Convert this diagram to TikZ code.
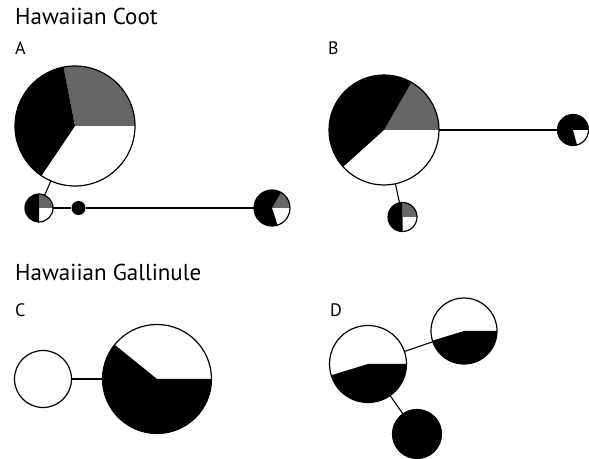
\documentclass[tikz,border=0pt]{standalone}
\usepackage{fontspec}
\setmainfont{PT Sans}
\usetikzlibrary{backgrounds}
\definecolor{gryfill}{RGB}{102,102,102}
\tikzset{
  pie/.style={circle, draw, line width=1.2pt, inner sep=0pt, outer sep=0pt, minimum size=#1},
  link/.style={line width=1.1pt},
  title/.style={anchor=base west, inner sep=0pt, font=\fontsize{23}{27}\selectfont},
  panel/.style={anchor=base west, inner sep=0pt, font=\fontsize{18}{22}\selectfont},
}
\newcommand\pieslice[5]{\fill[#5] (#1.center) -- ++(#3:#2) arc[start angle=#3,end angle=#4,radius=#2] -- cycle;}
\begin{document}
\begin{tikzpicture}[x=1pt,y=1pt]
\useasboundingbox (0,0) rectangle (589,458);
% titles
\node[title] (t1) at (15,433) {Hawaiian Coot};
\node[title] (t2) at (15,177) {Hawaiian Gallinule};
\node[panel] (la) at (15,403) {A};
\node[panel] (lb) at (328,403) {B};
\node[panel] (lc) at (15,141) {C};
\node[panel] (ld) at (330,141) {D};
% panel A
\node[pie=120pt] (A1) at (75,332) {};
\node[pie=28pt] (A2) at (39,250) {};
\node[circle, fill, inner sep=0pt, minimum size=14pt] (A3) at (78.5,250) {};
\node[pie=36pt] (A4) at (272,250) {};
% panel B
\node[pie=110pt] (B1) at (384,328) {};
\node[pie=29pt] (B2) at (402.5,241) {};
\node[pie=31pt] (B3) at (573,328) {};
% panel C
\node[pie=57pt] (C1) at (43,79) {};
\node[pie=109pt] (C2) at (157,79) {};
% panel D
\node[pie=77pt] (D1) at (368,94) {};
\node[pie=66pt] (D2) at (464,127) {};
\node[pie=49pt, fill=black] (D3) at (417,24) {};
% connectors
\draw[link] (A1) -- (A2);
\draw[link] (A2) -- (A3);
\draw[link] (A3) -- (A4);
\draw[link] (B1) -- (B2);
\draw[link] (B1) -- (B3);
\draw[link] (C1) -- (C2);
\draw[link] (D1) -- (D2);
\draw[link] (D1) -- (D3);
\begin{scope}[on background layer]
  \pieslice{A1}{60pt}{0}{101}{gryfill}
  \pieslice{A1}{60pt}{101}{236}{black}
  \pieslice{A2}{14pt}{90}{270}{black}
  \pieslice{A2}{14pt}{0}{90}{gryfill}
  \pieslice{A4}{18pt}{0}{60}{gryfill}
  \pieslice{A4}{18pt}{60}{288}{black}
  \pieslice{B1}{55pt}{0}{60}{gryfill}
  \pieslice{B1}{55pt}{60}{222}{black}
  \pieslice{B2}{14.5pt}{90}{270}{black}
  \pieslice{B2}{14.5pt}{0}{90}{gryfill}
  \pieslice{B3}{15.5pt}{0}{285}{black}
  \pieslice{C2}{54.5pt}{141}{360}{black}
  \pieslice{D1}{38.5pt}{197}{360}{black}
  \pieslice{D2}{33pt}{197}{360}{black}
\end{scope}
\end{tikzpicture}
\end{document}
